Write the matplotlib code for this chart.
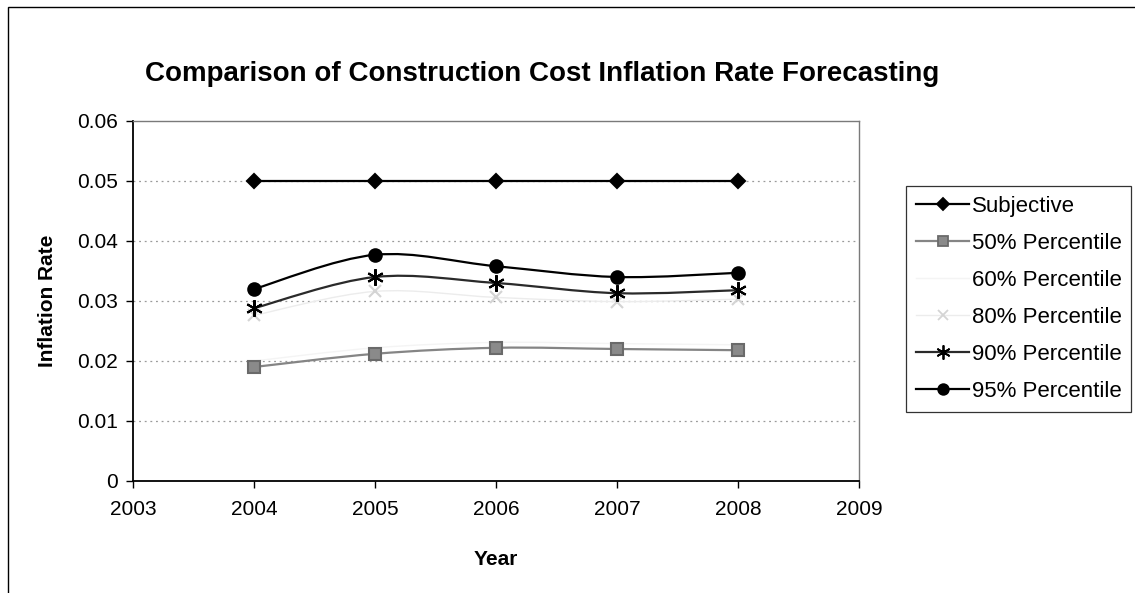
import numpy as np
import matplotlib
matplotlib.use("Agg")
import matplotlib.pyplot as plt
from matplotlib.path import Path
from matplotlib.patches import PathPatch, Rectangle
from matplotlib.lines import Line2D

plt.rcParams['font.family'] = ['Liberation Sans', 'DejaVu Sans']

years = [2004, 2005, 2006, 2007, 2008]
subjective = [0.050, 0.050, 0.050, 0.050, 0.050]
p50 = [0.0190, 0.0212, 0.0222, 0.0220, 0.0218]
p60 = [0.0200, 0.0222, 0.0231, 0.0229, 0.0227]
p80 = [0.0276, 0.0316, 0.0306, 0.0299, 0.0303]
p90 = [0.0288, 0.0340, 0.0330, 0.0313, 0.0318]
p95 = [0.0320, 0.0377, 0.0358, 0.0340, 0.0347]

series = [
    ("Subjective", subjective, dict(color="black", marker="D", ms=7, mfc="black", mec="black", lw=1.6)),
    ("50% Percentile", p50, dict(color="#858585", marker="s", ms=8, mfc="#8a8a8a", mec="#6a6a6a", lw=1.6)),
    ("60% Percentile", p60, dict(color="#f4f4f4", marker=None, ms=0, mfc="none", mec="none", lw=1.0)),
    ("80% Percentile", p80, dict(color="#ececec", marker="x", ms=8, mfc="none", mec="#d4d4d4", lw=1.0)),
    ("90% Percentile", p90, dict(color="#2a2a2a", marker=(6, 2, 0), ms=12, mfc="black", mec="black", lw=1.6)),
    ("95% Percentile", p95, dict(color="black", marker="o", ms=9, mfc="black", mec="black", lw=1.6)),
]


def smooth_path(xs, ys, t=1.0 / 6.0):
    """Catmull-Rom style Bezier through the points (spreadsheet 'smoothed line')."""
    xs = np.asarray(xs, float)
    ys = np.asarray(ys, float)
    n = len(xs)
    verts = [(xs[0], ys[0])]
    codes = [Path.MOVETO]
    for i in range(n - 1):
        i0 = max(i - 1, 0)
        i3 = min(i + 2, n - 1)
        c1 = (xs[i] + (xs[i + 1] - xs[i0]) * t, ys[i] + (ys[i + 1] - ys[i0]) * t)
        c2 = (xs[i + 1] - (xs[i3] - xs[i]) * t, ys[i + 1] - (ys[i3] - ys[i]) * t)
        verts += [c1, c2, (xs[i + 1], ys[i + 1])]
        codes += [Path.CURVE4] * 3
    return Path(verts, codes)


W, H = 1135, 593
fig = plt.figure(figsize=(W / 100, H / 100), dpi=100)
ax = fig.add_axes([133 / W, 1 - 481 / H, 726 / W, 360 / H])

ax.set_xlim(2003, 2009)
ax.set_ylim(0, 0.06)
ax.set_xticks([2003, 2004, 2005, 2006, 2007, 2008, 2009])
ax.set_yticks([0, 0.01, 0.02, 0.03, 0.04, 0.05, 0.06])
ax.set_yticklabels(["0", "0.01", "0.02", "0.03", "0.04", "0.05", "0.06"])
ax.tick_params(axis="both", labelsize=15, direction="out", length=5, width=1, colors="black")
ax.tick_params(axis="x", pad=9)
ax.tick_params(axis="y", pad=6)

for v in [0.01, 0.02, 0.03, 0.04, 0.05]:
    ax.axhline(v, color="#9a9a9a", lw=0.9, ls=(0, (1.5, 3)), zorder=0)

for s in ["left", "bottom"]:
    ax.spines[s].set_color("black")
    ax.spines[s].set_linewidth(1.3)
for s in ["top", "right"]:
    ax.spines[s].set_color("#7a7a7a")
    ax.spines[s].set_linewidth(1.0)
    ax.spines[s].set_linestyle((0, (2, 1)))

handles = []
for name, vals, st in series:
    patch = PathPatch(smooth_path(years, vals), fill=False, edgecolor=st["color"],
                      lw=st["lw"], zorder=2)
    ax.add_patch(patch)
    if st["marker"] is not None:
        ax.plot(years, vals, ls="none", marker=st["marker"], ms=st["ms"],
                mfc=st["mfc"], mec=st["mec"], mew=1.5, zorder=3)
    handles.append(Line2D([], [], color=st["color"], lw=st["lw"],
                          marker=st["marker"] if st["marker"] is not None else None,
                          ms=st["ms"] * 0.85, mfc=st["mfc"], mec=st["mec"], mew=1.3))

ax.set_xlabel("Year", fontsize=15, fontweight="bold", labelpad=22)
ax.set_ylabel("Inflation Rate", fontsize=15, fontweight="bold", labelpad=14)

fig.text(542 / W, 1 - 74 / H, "Comparison of Construction Cost Inflation Rate Forecasting",
         ha="center", va="center", fontsize=20, fontweight="bold")

leg = fig.legend(handles, [s[0] for s in series], loc="upper left",
                 bbox_to_anchor=(906 / W, 1 - 186 / H), fontsize=16,
                 frameon=True, fancybox=False, handlelength=2.4, handletextpad=0.1,
                 labelspacing=0.72, borderpad=0.45, borderaxespad=0)
leg.get_frame().set_edgecolor("black")
leg.get_frame().set_linewidth(0.9)

# outer chart border
fig.patches.append(Rectangle((8 / W, -0.01), 1.2, 1 - 7 / H + 0.01,
                             transform=fig.transFigure, fill=False,
                             edgecolor="black", lw=1.0))

fig.savefig("out.png", dpi=100)
